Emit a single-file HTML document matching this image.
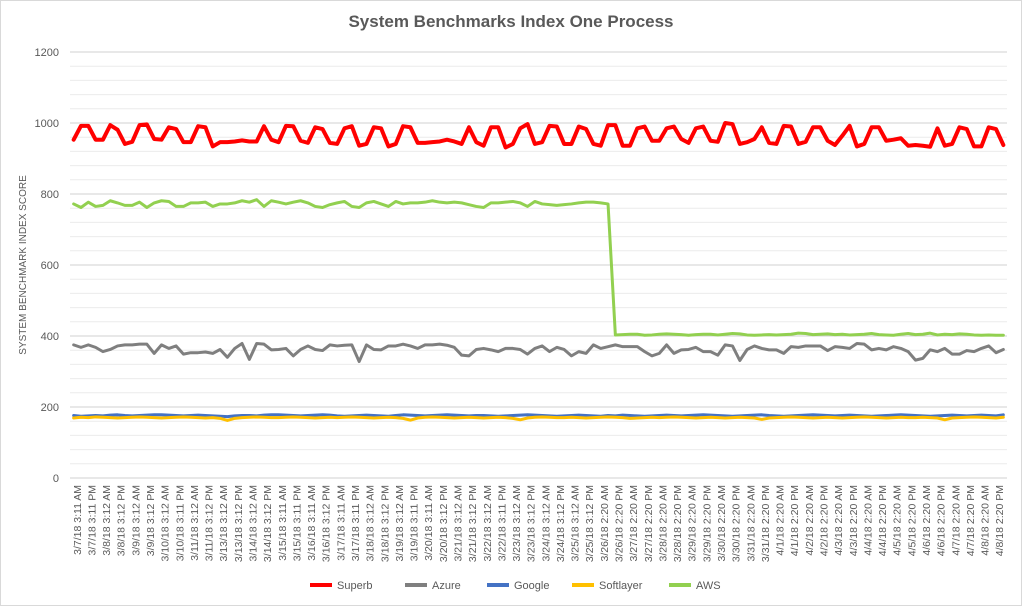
<!DOCTYPE html>
<html><head><meta charset="utf-8"><style>
html,body{margin:0;padding:0;background:#fff;}
svg{display:block;font-family:"Liberation Sans",sans-serif;}
</style></head><body>
<svg id="chart" width="1022" height="606" viewBox="0 0 1022 606">
<rect x="0.5" y="0.5" width="1021" height="605" fill="#fff" stroke="#d9d9d9"/>
<text x="511" y="27" text-anchor="middle" font-size="17" font-weight="bold" fill="#595959">System Benchmarks Index One Process</text>
<text transform="translate(26,265) rotate(-90)" text-anchor="middle" font-size="10" fill="#595959">SYSTEM BENCHMARK INDEX SCORE</text>
<g id="grid"></g><g id="yticks"></g><g id="xticks"></g><g id="series"></g>
<g id="legend"></g>
</svg>
<script>
const days=[];
const categories=(function(){const a=[];
const first=[["3/7","3:11","3:11"],["3/8","3:12","3:12"],["3/9","3:12","3:12"],["3/10","3:12","3:11"],["3/11","3:12","3:12"],["3/13","3:12","3:12"],["3/14","3:12","3:12"],["3/15","3:11","3:11"],["3/16","3:11","3:12"],["3/17","3:11","3:11"],["3/18","3:12","3:12"],["3/19","3:12","3:11"],["3/20","3:11","3:12"],["3/21","3:12","3:12"],["3/22","3:12","3:11"],["3/23","3:12","3:12"],["3/24","3:12","3:12"],["3/25","3:12","3:12"],["3/26","2:20","2:20"],["3/27","2:20","2:20"],["3/28","2:20","2:20"],["3/29","2:20","2:20"],["3/30","2:20","2:20"],["3/31","2:20","2:20"],["4/1","2:20","2:20"],["4/2","2:20","2:20"],["4/3","2:20","2:20"],["4/4","2:20","2:20"],["4/5","2:20","2:20"],["4/6","2:20","2:20"],["4/7","2:20","2:20"],["4/8","2:20","2:20"]];
first.forEach(d=>{a.push(d[0]+"/18 "+d[1]+" AM");a.push(d[0]+"/18 "+d[2]+" PM");});return a;})();
const yTicks=[0,200,400,600,800,1000,1200];
const superb=[953,992,992,953,953,994,981,941,947,994,996,955,953,988,983,946,946,991,988,934,946,946,948,951,948,948,991,953,946,992,991,950,944,
988,983,944,941,985,991,936,941,988,985,934,941,991,988,944,944,946,948,953,948,941,988,946,936,988,988,931,941,985,997,941,946,
992,990,941,941,990,983,941,936,994,994,936,936,985,990,950,950,985,990,955,944,985,990,950,947,1000,997,941,946,955,988,944,941,
992,990,941,947,988,988,950,938,964,992,934,941,988,988,950,953,957,936,938,936,933,985,936,941,988,983,934,934,988,983,938];
const azure=[375,368,375,368,356,362,372,375,375,377,377,351,375,365,372,349,353,353,355,351,362,340,365,379,334,379,377,361,362,365,344,362,372,
362,359,375,372,374,375,328,375,362,361,372,372,377,372,365,375,375,377,374,368,346,344,362,365,361,356,365,365,362,349,365,372,
356,368,362,344,356,351,375,365,370,375,370,370,370,356,344,351,375,351,361,362,368,356,356,346,375,372,331,362,372,365,361,361,
351,370,368,372,372,372,359,370,368,365,379,377,361,365,361,370,365,356,332,337,361,356,365,349,349,359,356,365,372,353,362];
const google=[176,174,175,176,175,177,178,176,175,176,177,178,178,177,176,175,176,177,176,175,174,173,175,176,176,175,177,178,178,177,176,175,176,177,178,177,175,174,175,176,177,176,175,174,176,178,177,176,175,176,177,178,177,176,175,176,176,175,174,175,176,177,178,177,176,175,174,175,176,177,176,175,174,176,175,177,176,175,174,175,176,177,176,175,176,177,178,177,176,175,174,175,176,177,178,176,175,174,175,176,177,178,177,176,175,176,177,176,175,174,175,176,177,178,177,176,175,174,175,176,177,176,175,176,177,176,175,178];
const softlayer=[169,171,170,172,171,170,169,170,171,172,171,170,169,170,171,172,171,170,169,170,168,162,168,170,171,172,171,170,170,171,172,171,170,169,170,171,170,171,172,171,170,169,170,171,170,168,163,169,171,172,171,170,169,170,171,170,169,170,171,170,168,164,169,171,172,171,170,170,171,170,169,170,171,172,171,170,168,169,170,171,170,171,172,171,170,169,170,171,170,169,170,171,170,169,165,169,170,171,172,171,170,169,170,171,170,169,170,171,172,171,170,169,170,171,170,170,171,170,169,164,169,170,171,172,171,170,169,171];
const aws=[772,762,777,765,768,781,775,768,768,777,762,775,781,779,765,765,775,775,777,765,772,772,775,781,777,784,765,781,777,772,777,781,775,765,762,770,775,779,
765,762,775,779,772,765,779,772,775,775,777,781,777,775,777,775,770,765,762,775,775,777,779,775,765,779,772,770,768,770,772,775,777,777,775,772,
403,404,405,405,402,403,405,406,405,404,402,404,405,405,403,405,407,406,403,402,403,404,403,404,405,408,407,404,405,406,404,405,403,404,405,407,404,403,402,405,407,404,405,408,403,405,404,406,405,403,402,403,402,402];
const seriesNames=["Superb","Azure","Google","Softlayer","AWS"];
const seriesColors=["#ff0000","#7f7f7f","#4472c4","#ffc000","#92d050"];
const seriesWidths=[4,3,3,3,3];
const NS="http://www.w3.org/2000/svg";
const L=70,R=1007,T=52,B=478,yMax=1200;
const n=superb.length;
const step=(R-L)/n;
const xPos=i=>L+(i+0.5)*step;
const yPos=v=>B-(v/yMax)*(B-T);
function mk(tag,attrs,parent){const e=document.createElementNS(NS,tag);for(const k in attrs)e.setAttribute(k,attrs[k]);parent.appendChild(e);return e;}
const grid=document.getElementById('grid');
for(let v=40;v<=yMax;v+=40){
  const major=v%200===0;
  const ln=mk('line',{x1:L,x2:R,y1:yPos(v),y2:yPos(v),stroke:major?'#d0d0d0':'#ececec','stroke-width':1},grid);
  
  
}
const ax=mk('line',{x1:L,x2:R,y1:B,y2:B,stroke:'#d0d0d0','stroke-width':1},grid);


const yt=document.getElementById('yticks');
yTicks.forEach(v=>{const t=mk('text',{x:59,y:yPos(v)+4,'text-anchor':'end','font-size':11,fill:'#595959'},yt);t.textContent=v;

});
const xt=document.getElementById('xticks');
categories.forEach((c,j)=>{const x=L+(j+0.5)*(R-L)/categories.length+3.5;
const t=mk('text',{transform:`translate(${x},485) rotate(-90)`,'text-anchor':'end','font-size':10.5,fill:'#595959'},xt);t.textContent=c;

});
const sg=document.getElementById('series');
[superb,azure,google,softlayer,aws].forEach((arr,s)=>{
  const pts=arr.map((v,i)=>xPos(i).toFixed(2)+','+yPos(v).toFixed(2)).join(' ');
  const p=mk('polyline',{points:pts,fill:'none',stroke:seriesColors[s],'stroke-width':seriesWidths[s],'stroke-linejoin':'round','stroke-linecap':'round'},sg);
  
  
});
const lg=document.getElementById('legend');
const lx=[310,405,487,572,669];
seriesNames.forEach((nm,s)=>{
  const g=mk('g',{},lg);
  
  
  mk('line',{x1:lx[s],x2:lx[s]+22,y1:585,y2:585,stroke:seriesColors[s],'stroke-width':4},g);
  const t=mk('text',{x:lx[s]+27,y:589,'font-size':11,fill:'#595959'},g);t.textContent=nm;
});
</script>
</body></html>
